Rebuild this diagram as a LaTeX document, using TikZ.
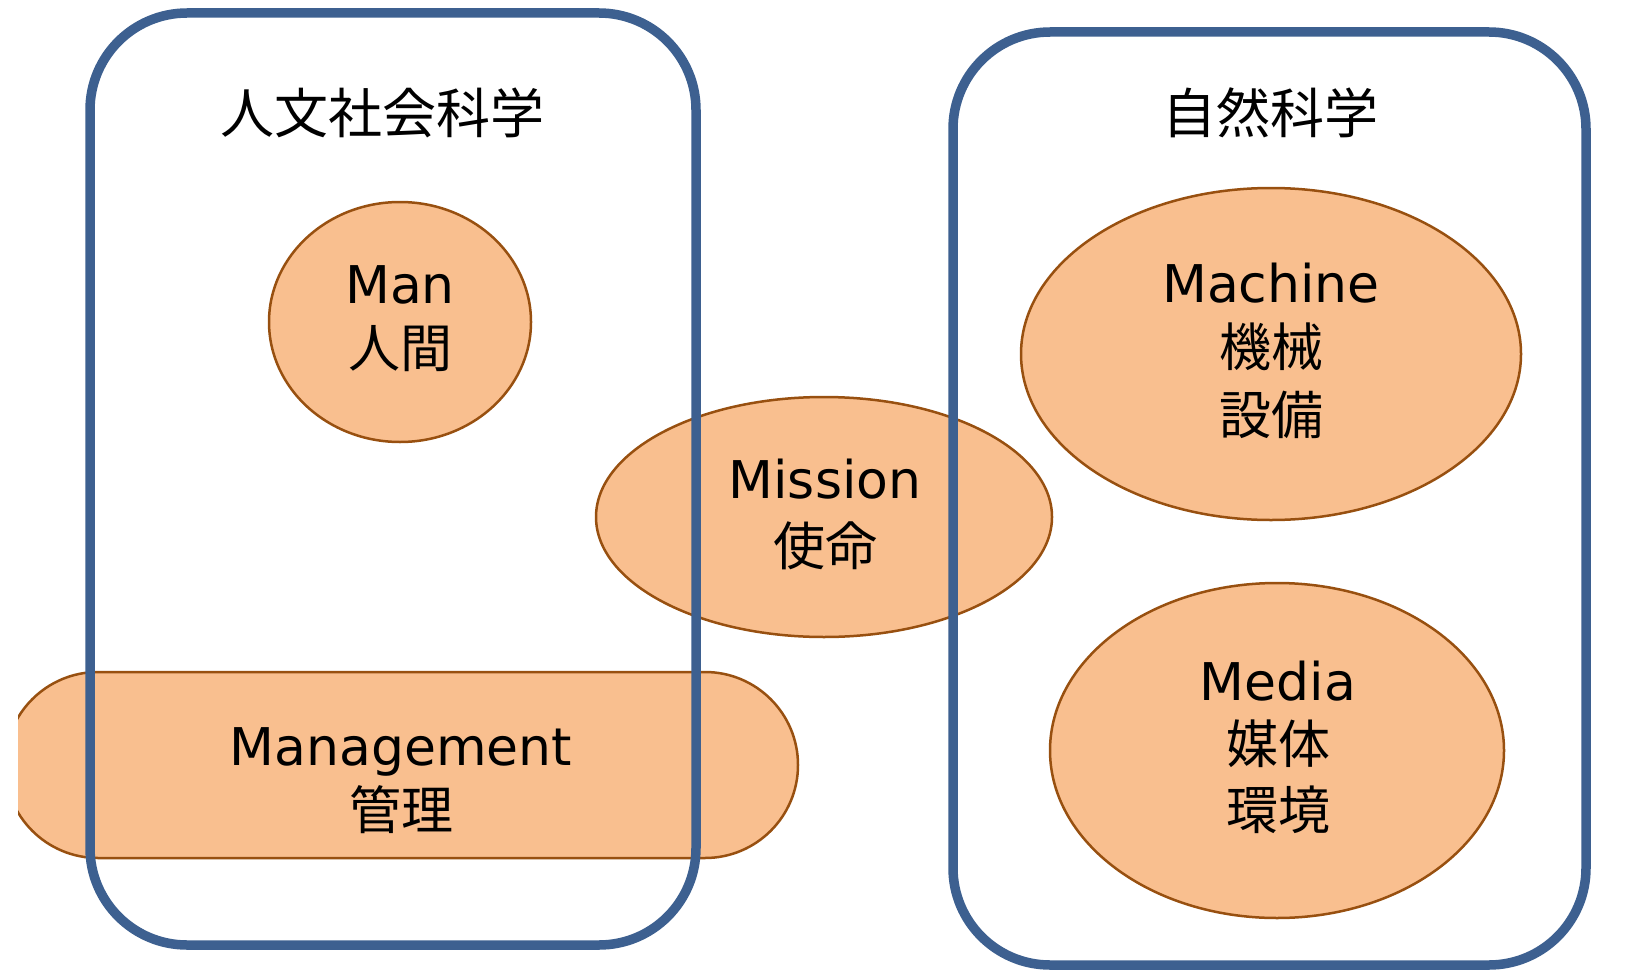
\documentclass[tikz,border=0pt]{standalone}
\usepackage{fontspec}
\setmainfont{DejaVu Sans}
\newfontfamily\cjk{Noto Sans CJK JP}
\usetikzlibrary{shapes.geometric}
\definecolor{boxblue}{HTML}{3D6090}
\definecolor{orfill}{HTML}{F9BF8F}
\definecolor{ordraw}{HTML}{985010}
\tikzset{
  blob/.style={ellipse, draw=ordraw, fill=orfill, line width=2.5pt, inner sep=0pt},
  fieldbox/.style={rectangle, draw=boxblue, line width=9.5pt, rounded corners=97pt, inner sep=0pt},
  lat/.style={anchor=base, inner sep=0pt, font=\fontsize{52}{60}\selectfont},
  kan/.style={anchor=base, inner sep=0pt, font=\cjk\fontsize{52}{60}\selectfont},
  head/.style={anchor=base, inner sep=0pt, font=\cjk\fontsize{54}{62}\selectfont}
}
\begin{document}
\begin{tikzpicture}[x=1pt,y=-1pt]
\useasboundingbox (0,0) rectangle (1640,971);
\fill[white] (0,0) rectangle (1640,971);
% orange shapes
\begin{scope}
\clip (18,0) rectangle (1640,971);
\node[draw=ordraw, fill=orfill, line width=2.5pt, rectangle, rounded corners=93pt,
      minimum width=793pt, minimum height=186pt, inner sep=0pt] (mgmt) at (401.5,765) {};
\end{scope}
\node[blob, minimum width=262pt, minimum height=240pt] (man) at (400,322) {};
\node[blob, minimum width=456pt, minimum height=240pt] (mission) at (824,517) {};
\node[blob, minimum width=500pt, minimum height=332pt] (machine) at (1271,354) {};
\node[blob, minimum width=454pt, minimum height=335pt] (media) at (1277,750.5) {};
% domain boxes
\node[fieldbox, minimum width=606pt, minimum height=932pt] (human) at (393,479) {};
\node[fieldbox, minimum width=633pt, minimum height=933pt] (nature) at (1269.5,498.5) {};
% headings
\node[head] (humant) at (382,133) {人文社会科学};
\node[head] (naturet) at (1270,133.5) {自然科学};
% labels
\node[lat] (man1) at (400,303) {Man};
\node[kan] (man2) at (400,367) {人間};
\node[lat] (mis1) at (825,498) {Mission};
\node[kan] (mis2) at (825,565) {使命};
\node[lat] (mac1) at (1271,302) {Machine};
\node[kan] (mac2) at (1271,366) {機械};
\node[kan] (mac3) at (1271,434) {設備};
\node[lat] (med1) at (1278,700) {Media};
\node[kan] (med2) at (1278,763) {媒体};
\node[kan] (med3) at (1278,829) {環境};
\node[lat] (mg1) at (401,765) {Management};
\node[kan] (mg2) at (401,829) {管理};
\end{tikzpicture}
\end{document}
